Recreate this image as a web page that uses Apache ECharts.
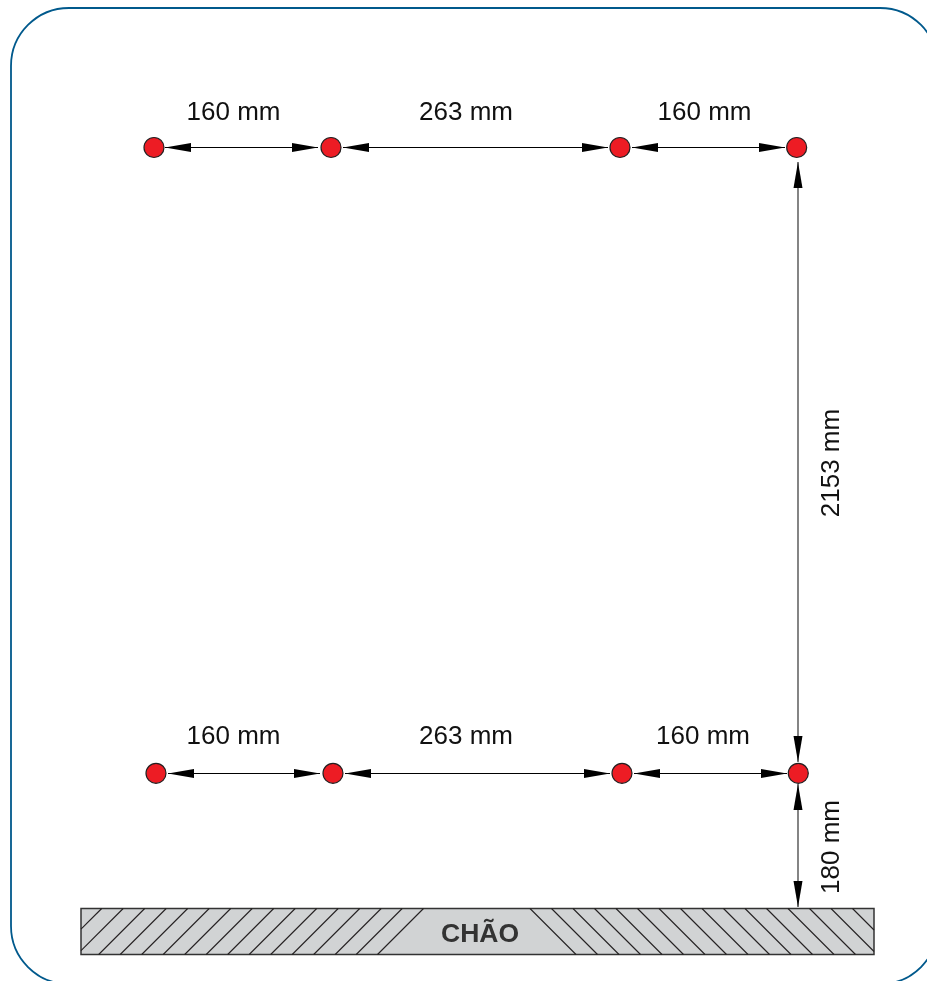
<!DOCTYPE html>
<html>
<head>
<meta charset="utf-8">
<style>html,body{margin:0;padding:0;background:#fff}#c{width:927px;height:981px}</style>
<script src="https://cdn.jsdelivr.net/npm/echarts@6/dist/echarts.min.js"></script>
</head>
<body>
<div id="c"></div>
<script>
// Marker points (page units of the hidden axes)
const topRowX = [154, 331, 620, 796.7];
const topRowY = 147.5;
const bottomRowX = [156, 333, 622, 798.3];
const bottomRowY = 773.3;
// Dimension segments between arrow tips
const horizontalDims = [
  [165, 318, 147.5], [343, 608, 147.5], [632, 785, 147.5],
  [168, 320, 773.5], [345, 610, 773.5], [634, 787, 773.5]
];
const verticalDims = [
  [798, 162, 762], [798, 784, 907]
];
// Dimension labels [text, x, y, rotation]
const dimLabels = [
  ['160 mm', 233.5, 112.5, 0], ['263 mm', 466, 112.5, 0], ['160 mm', 704.5, 112.5, 0],
  ['160 mm', 233.5, 736.5, 0], ['263 mm', 466, 736.5, 0], ['160 mm', 703, 736.5, 0],
  ['2153 mm', 831.5, 463, 90], ['180 mm', 831.5, 847, 90]
];
const floorLabel = 'CHÃO';
const floorBox = [81, 908.5, 874, 954.5];
const hatchForward = [101.7, 123.2, 144.7, 166.2, 187.7, 209.2, 230.7, 252.2, 273.7, 295.2, 316.7, 338.2, 359.7, 381.2, 402.2, 423.5];
const hatchBackward = [530, 551.5, 573, 594.5, 616, 637.5, 659, 680.5, 702, 723.5, 745, 766.5, 788, 809.5, 831, 852.5];
const frameBox = [11, 8, 938, 984];

const INK = '#111111';
const arrows = [];
horizontalDims.forEach(d => {
  arrows.push({ value: [d[0] + 13, d[2]], symbolRotate: 90 });
  arrows.push({ value: [d[1] - 13, d[2]], symbolRotate: -90 });
});
verticalDims.forEach(d => {
  arrows.push({ value: [d[0], d[1] + 13], symbolRotate: 0 });
  arrows.push({ value: [d[0], d[2] - 13], symbolRotate: 180 });
});

function segSeries(data, dir) {
  return {
    type: 'custom', coordinateSystem: 'cartesian2d', silent: true, z: 3,
    data: data,
    renderItem: function (p, api) {
      const a = +api.value(0), b = +api.value(1), c = +api.value(2);
      const s = dir === 'h' ? api.coord([a, c]) : api.coord([a, b]);
      const e = dir === 'h' ? api.coord([b, c]) : api.coord([a, c]);
      return { type: 'line', shape: { x1: s[0], y1: s[1], x2: e[0], y2: e[1] },
        style: { stroke: dir === 'h' ? '#000' : '#333', lineWidth: dir === 'h' ? 1.1 : 1.2, fill: null } };
    }
  };
}

function hatchSeries(data, sign) {
  const [x0, y0, x1, y1] = floorBox;
  const h = y1 - y0;
  return {
    type: 'custom', coordinateSystem: 'cartesian2d', silent: true, z: 2,
    data: data.map(v => [v]),
    renderItem: function (p, api) {
      const t = +api.value(0);
      let ax = t, ay = y0, bx = t + sign * h, by = y1;
      if (bx < x0) { by = y0 + (t - x0); bx = x0; }
      if (bx > x1) { by = y0 + (x1 - t); bx = x1; }
      const s = api.coord([ax, ay]), e = api.coord([bx, by]);
      return { type: 'line', shape: { x1: s[0], y1: s[1], x2: e[0], y2: e[1] },
        style: { stroke: '#231f20', lineWidth: 1.1, fill: null } };
    }
  };
}

const chart = echarts.init(document.getElementById('c'), null, { renderer: 'canvas' });
chart.setOption({
  animation: false,
  backgroundColor: '#ffffff',
  grid: { left: 0, right: 0, top: 0, bottom: 0 },
  xAxis: { type: 'value', min: 0, max: 927, show: false },
  yAxis: { type: 'value', min: 0, max: 981, inverse: true, show: false },
  series: [
    { // rounded frame
      type: 'custom', coordinateSystem: 'cartesian2d', silent: true, z: 1,
      data: [frameBox],
      renderItem: function (p, api) {
        const a = api.coord([api.value(0), api.value(1)]);
        const b = api.coord([api.value(2), api.value(3)]);
        return { type: 'rect',
          shape: { x: a[0], y: a[1], width: b[0] - a[0], height: b[1] - a[1], r: 58 },
          style: { fill: null, stroke: '#00598c', lineWidth: 1.8 } };
      }
    },
    { // floor block
      type: 'custom', coordinateSystem: 'cartesian2d', silent: true, z: 1,
      data: [floorBox],
      renderItem: function (p, api) {
        const a = api.coord([api.value(0), api.value(1)]);
        const b = api.coord([api.value(2), api.value(3)]);
        return { type: 'rect',
          shape: { x: a[0], y: a[1], width: b[0] - a[0], height: b[1] - a[1] },
          style: { fill: '#d1d3d4', stroke: '#333333', lineWidth: 1.5 } };
      }
    },
    hatchSeries(hatchForward, -1),
    hatchSeries(hatchBackward, 1),
    segSeries(horizontalDims, 'h'),
    segSeries(verticalDims, 'v'),
    { // arrow heads
      type: 'scatter', silent: true, z: 4,
      symbol: 'triangle', symbolSize: [9, 26],
      itemStyle: { color: '#000', opacity: 1 },
      data: arrows
    },
    { // marker dots
      type: 'scatter', silent: true, z: 5,
      symbol: 'circle', symbolSize: 20,
      itemStyle: { color: '#ed1c24', borderColor: '#231f20', borderWidth: 1.2, opacity: 1 },
      data: topRowX.map(x => [x, topRowY]).concat(bottomRowX.map(x => [x, bottomRowY]))
    },
    { // dimension labels
      type: 'custom', coordinateSystem: 'cartesian2d', silent: true, z: 6,
      data: dimLabels,
      dimensions: [{ name: 't', type: 'ordinal' }, 'x', 'y', 'r'],
      encode: { x: 1, y: 2 },
      renderItem: function (p, api) {
        const row = dimLabels[p.dataIndex];
        const c = api.coord([row[1], row[2]]);
        return { type: 'text', x: c[0], y: c[1], rotation: row[3] * Math.PI / 180,
          style: { text: row[0], x: 0, y: 0, fill: INK, align: 'center', verticalAlign: 'middle',
            font: '26px "Liberation Sans", Arial, sans-serif' } };
      }
    },
    { // floor label
      type: 'custom', coordinateSystem: 'cartesian2d', silent: true, z: 6,
      data: [[480, 935]],
      renderItem: function (p, api) {
        const c = api.coord([api.value(0), api.value(1)]);
        return { type: 'text', x: c[0], y: c[1],
          style: { text: floorLabel, x: 0, y: 0, fill: '#333333', align: 'center', verticalAlign: 'middle',
            font: 'bold 26.5px "Liberation Sans", Arial, sans-serif' } };
      }
    }
  ]
});
</script>
</body>
</html>
